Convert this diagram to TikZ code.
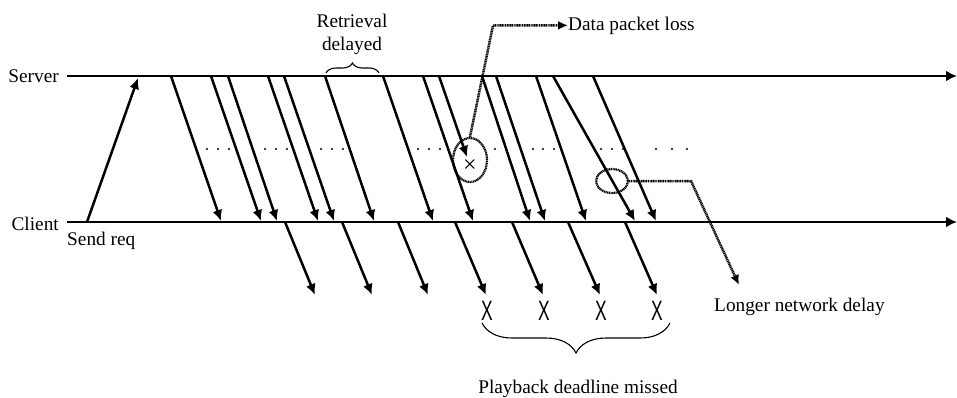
\documentclass[tikz,border=0pt]{standalone}
\usepackage{fontspec}
\setmainfont{Liberation Serif}
\newfontfamily\marksans{Liberation Sans}
\usetikzlibrary{arrows.meta,shapes.geometric,decorations.pathreplacing}

\begin{document}
\begin{tikzpicture}[x=1pt,y=-1pt,
  axis/.style={line width=2.9pt,-{Latex[length=11pt,width=11pt]}},
  pkt/.style={line width=2.5pt,-{Latex[length=11pt,width=10pt]}},
  leader/.style={line width=2.5pt,dash pattern=on 1.1pt off 0.6pt},
  leaderarrow/.style={leader,-{Latex[length=10pt,width=9pt]}},
  ring/.style={ellipse,draw,leader,line width=2.2pt,inner sep=0pt},
  lbl/.style={font=\fontsize{19.3}{23}\selectfont,inner sep=0pt},
  missmark/.style={font=\marksans\fontsize{28}{28}\selectfont,inner sep=0pt},
  curly/.style={line width=1.1pt,decorate,decoration={brace,amplitude=#1}},
]
\useasboundingbox (0,0) rectangle (957,397);

% labels
\node[lbl,anchor=base east] (srv) at (59,82) {Server};
\node[lbl,anchor=base east] (cli) at (59,230) {Client};
\node[lbl,anchor=base west] (req) at (67,245) {Send req};
\node[lbl,anchor=base] (ret1) at (352,27) {Retrieval};
\node[lbl,anchor=base] (ret2) at (352,50) {delayed};
\node[lbl,anchor=base west] (losstxt) at (568,30) {Data packet loss};
\node[lbl,anchor=base west] (delaytxt) at (714,311) {Longer network delay};
\node[lbl,anchor=base] (misstxt) at (578,393) {Playback deadline missed};

% time axes
\coordinate (sA) at (67,76);  \coordinate (sB) at (957,76);
\coordinate (cA) at (67,222); \coordinate (cB) at (957,222);
\draw[axis] (sA) -- (sB);
\draw[axis] (cA) -- (cB);

% request from client to server
\coordinate (reqS) at (87,222); \coordinate (reqE) at (138,78);
\draw[pkt] (reqS) -- (reqE);

% data packets from server to client
\foreach \i/\a/\b in {1/171/221, 2/211/261, 3/228/277, 4/268/318, 5/284/334,
                      6/325/374, 7/383/433, 8/423/473, 10/482/530, 11/496/545,
                      12/536/586, 13/553/635, 14/593/656}{
  \coordinate (p\i-s) at (\a,76);
  \coordinate (p\i-c) at (\b,221);
  \draw[pkt] (p\i-s) -- (p\i-c);
}
% the packet that never arrives
\coordinate (p9-s) at (439,76); \coordinate (p9-c) at (467,157);
\draw[pkt] (p9-s) -- (p9-c);

% in-flight dots
\foreach \x in {207,218,229, 265,276,287, 321,332,343, 418,429,440, 495,
                533,543,554, 601,612,623, 656,672,687}
  \fill (\x,149) circle (1.2);

% playback from client buffer
\foreach \i/\a/\b in {1/285/315, 2/342/372, 3/398/428, 4/455/486,
                      5/512/543, 6/568/600, 7/625/657}{
  \coordinate (b\i-s) at (\a,222);
  \coordinate (b\i-e) at (\b,295);
  \draw[pkt] (b\i-s) -- (b\i-e);
}
\foreach \x [count=\k] in {487,544,601,657}
  \node[missmark] (miss\k) at (\x,310.5) {\scalebox{0.62}[1]{X}};

% loss and delay markers
\node[ring,minimum width=34pt,minimum height=44pt] (lossring) at (470,160) {};
\node[font=\fontsize{24}{24}\selectfont,inner sep=0pt] (lossx) at (470,166) {×};
\node[ring,minimum width=32pt,minimum height=24pt] (latering) at (612,181) {};

\coordinate (lossbend) at (493,25.5);
\draw[leaderarrow] (lossring.north) -- (lossbend) -- (losstxt.west);
\coordinate (latebend) at (691,181);
\coordinate (latetip) at (739,285);
\draw[leaderarrow] (latering.east) -- (latebend) -- (latetip);

% braces
\draw[curly=10] (326,73) -- (379,73);
\draw[curly=30] (670,323) -- (482,323);
\end{tikzpicture}
\end{document}
